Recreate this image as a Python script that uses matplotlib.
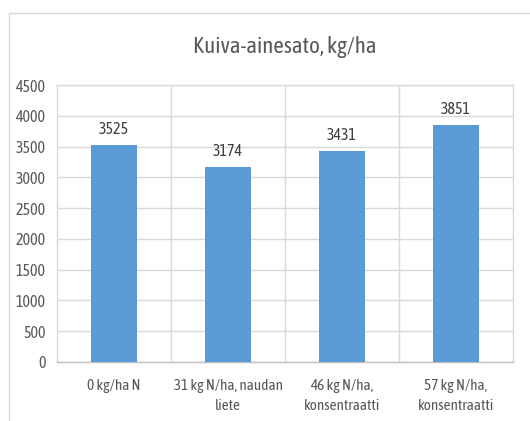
import matplotlib
matplotlib.use("Agg")
import matplotlib.pyplot as plt
from matplotlib.patches import Rectangle

categories = ["0 kg/ha N", "31 kg N/ha, naudan\nliete", "46 kg N/ha,\nkonsentraatti", "57 kg N/ha,\nkonsentraatti"]
values = [3525, 3174, 3431, 3851]
yticks = [0, 500, 1000, 1500, 2000, 2500, 3000, 3500, 4000, 4500]
title = "Kuiva-ainesato, kg/ha"

plt.rcParams['font.family'] = ['Asap Condensed', 'Lato', 'DejaVu Sans']
W, H = 530, 421
fig = plt.figure(figsize=(W/100, H/100), dpi=100)
fig.patch.set_facecolor("white")

# outer chart frame
fig.patches.append(Rectangle((9/W, -0.1), 1, 1.1 - 13/H, transform=fig.transFigure,
                             fill=False, edgecolor="#D9D9D9", linewidth=1.0))

ax = fig.add_axes([57/W, (H-362)/H, 456/W, 277/H])
x = list(range(len(categories)))
ax.bar(x, values, width=0.4, color="#5B9BD5", zorder=3)
for xi, v in zip(x, values):
    ax.annotate(str(v), (xi, v), xytext=(0, 5), textcoords="offset points",
                ha="center", va="bottom", fontsize=11.5, color="#404040")

ax.set_xlim(-0.5, len(categories) - 0.5)
ax.set_ylim(0, 4500)
ax.set_yticks(yticks)
ax.set_yticklabels([str(t) for t in yticks])
ax.set_xticks(x)
ax.set_xticklabels(categories, linespacing=1.6)
ax.set_xticks([i + 0.5 for i in x[:-1]], minor=True)
ax.tick_params(axis="both", which="both", length=0, labelsize=11.5, labelcolor="#595959")
ax.tick_params(axis="x", labelsize=11, pad=12)
ax.tick_params(axis="y", pad=8)
ax.grid(axis="y", color="#D9D9D9", linewidth=1.0, zorder=0)
ax.grid(axis="x", which="minor", color="#D9D9D9", linewidth=1.0, zorder=0)
for s in ax.spines.values():
    s.set_color("#D9D9D9")
    s.set_linewidth(1.0)
ax.spines["bottom"].set_color("#BFBFBF")

fig.text((57 + 513) / 2 / W, 1 - 47/H, title, ha="center", va="center",
         fontsize=16.5, color="#595959")

fig.savefig("out.png", dpi=100)
